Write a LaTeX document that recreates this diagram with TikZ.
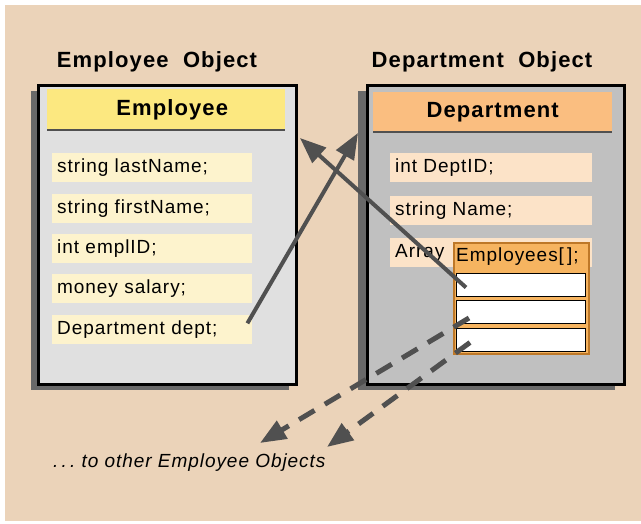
\documentclass[tikz,border=0pt]{standalone}
\usepackage{fontspec}
\setmainfont{Liberation Sans}[LetterSpace=5]
\usetikzlibrary{arrows.meta,positioning}

\definecolor{paper}{RGB}{235,211,185}
\definecolor{dropgray}{RGB}{105,105,105}
\definecolor{empgray}{RGB}{224,224,224}
\definecolor{depgray}{RGB}{192,192,192}
\definecolor{emphead}{RGB}{252,232,128}
\definecolor{dephead}{RGB}{250,190,128}
\definecolor{empfield}{RGB}{253,243,205}
\definecolor{depfield}{RGB}{252,227,200}
\definecolor{arrayfill}{RGB}{246,180,96}
\definecolor{arrayline}{RGB}{190,120,40}
\definecolor{refgray}{RGB}{80,80,80}

\begin{document}
\begin{tikzpicture}[x=1pt,y=-1pt,node distance=11pt]

\tikzstyle{objbox}=[draw=black,line width=3pt,anchor=north west,inner sep=0pt]
\tikzstyle{classhead}=[anchor=north west,inner sep=0pt,font=\bfseries\fontsize{22}{26}\selectfont]
\tikzstyle{objtitle}=[font=\bfseries\fontsize{22}{26}\selectfont]
\tikzstyle{member}=[anchor=north west,text width=190pt,minimum height=29pt,inner xsep=5pt,inner ysep=0pt,align=left,font=\fontsize{19}{22}\selectfont]
\tikzstyle{slot}=[fill=white,draw=black,line width=1pt,minimum width=129pt,minimum height=23pt,anchor=north west,inner sep=0pt]
\tikzstyle{ref}=[draw=refgray,line width=4pt,-{Triangle[length=26pt,width=20pt]}]
\tikzstyle{moreref}=[ref,line width=5pt,dash pattern=on 18pt off 12pt]

\useasboundingbox (0,0) rectangle (641,524);
\fill[white] (0,0) rectangle (641,524);
\fill[paper] (5,5) rectangle (641,521);

% employee object
\node[objtitle] (emptitle) at (157,62) {Employee\ \ Object};
\fill[dropgray] (31,91) rectangle (289,390);
\node[objbox,fill=empgray,minimum width=258pt,minimum height=299pt] (emp) at (37,84) {};
\node[classhead,fill=emphead,minimum width=238pt,minimum height=41pt,text width=224pt,align=center,inner xsep=7pt] (emphd) at (47,89) {\hspace*{12pt}Employee};
\draw[refgray,line width=2pt] (emphd.south west) -- (emphd.south east);

\node[member,fill=empfield] (lastname) at (52,153) {string lastName;};
\node[member,fill=empfield,below=of lastname] (firstname) {string firstName;};
\node[member,fill=empfield,below=of firstname] (emplid) {int emplID;};
\node[member,fill=empfield,below=of emplid] (salary) {money salary;};
\node[member,fill=empfield,below=of salary] (dept) {Department dept;};

% department object
\node[objtitle] (deptitle) at (482,62) {Department\ \ Object};
\fill[dropgray] (358,91) rectangle (615,390);
\node[objbox,fill=depgray,minimum width=257pt,minimum height=299pt] (dep) at (366,84) {};
\node[classhead,fill=dephead,minimum width=239pt,minimum height=40pt] (dephd) at (373,92) {Department};
\draw[refgray,line width=2pt] (dephd.south west) -- (dephd.south east);

\node[member,fill=depfield,text width=192pt] (deptid) at (390,153) {int DeptID;};
\node[member,fill=depfield,text width=192pt,below=13pt of deptid] (depname) {string Name;};
\node[member,fill=depfield,text width=192pt,below=13pt of depname] (staff) {Array};

% the array of employees
\node[draw=arrayline,fill=arrayfill,line width=2pt,minimum width=135pt,minimum height=111pt,anchor=north west] (arr) at (453,242) {};
\node[anchor=west,inner sep=0pt,font=\fontsize{19}{22}\selectfont] (arrhd) at (456,257) {Employees[\,];};
\node[slot] (slot1) at (456,273) {};
\node[slot,below=3.5pt of slot1] (slot2) {};
\node[slot,below=3.5pt of slot2] (slot3) {};

% references
\coordinate (depin) at (358,133);
\coordinate (empin) at (300,138);
\coordinate (more1) at (260,443);
\coordinate (more2) at (327,447);

\draw[ref] ([xshift=-5pt,yshift=6pt]dept.east) -- (depin);
\draw[ref] ([xshift=10pt,yshift=-2.5pt]slot1.west) -- (empin);
\draw[moreref] ([xshift=13pt,yshift=-5.5pt]slot2.west) -- (more1);
\draw[moreref] ([xshift=14pt,yshift=-2.5pt]slot3.west) -- (more2);

\node[anchor=west,inner sep=0pt,font=\itshape\fontsize{19}{22}\selectfont] (others) at (53,463) {.\,.\,.\ to other Employee Objects};

\end{tikzpicture}
\end{document}
